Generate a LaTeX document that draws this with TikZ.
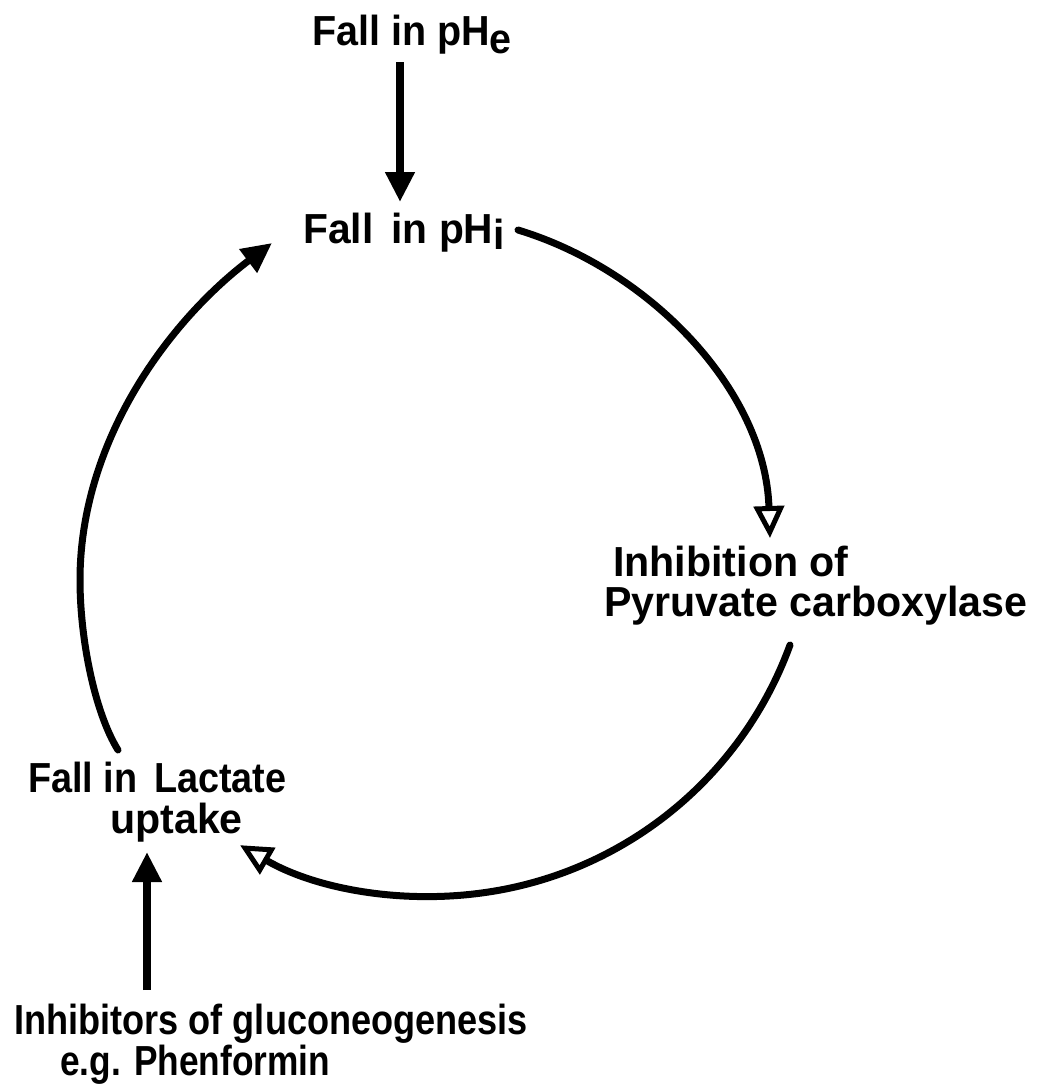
\documentclass[tikz,border=0pt]{standalone}
\usepackage{graphicx}
\usepackage{fontspec}
\setmainfont{Liberation Sans}
\usetikzlibrary{arrows.meta}
\newcommand\sqz[2]{\scalebox{#1}[1]{#2}}
\begin{document}
\begin{tikzpicture}[x=1pt,y=-1pt,
  lbl/.style={inner sep=0pt, anchor=base west, font=\fontsize{42}{48}\selectfont\bfseries},
  curve/.style={line width=7pt, line cap=round},
  shaft/.style={line width=8pt},
  fillhead/.style={-{Triangle[length=30pt,width=28pt]}},
  openhead/.style={-{Triangle[open,length=32pt,width=30pt,line width=5pt]}},
]
\fill[white] (0,0) rectangle (1043,1084);
\useasboundingbox (0,0) rectangle (1043,1084);

\node[lbl] (phe)  at (312,45)   {\sqz{0.94}{Fall in pH\raisebox{-8pt}{e}}};
\node[lbl] (phi)  at (303,243)  {\sqz{0.97}{Fall\, in pH\raisebox{-6pt}{i}}};
\node[lbl] (inh1) at (613,576)  {\sqz{0.98}{Inhibition of}};
\node[lbl] (inh2) at (604,616)  {\sqz{0.98}{Pyruvate carboxylase}};
\node[lbl] (lac1) at (28,792)   {\sqz{0.9}{Fall in\, Lactate}};
\node[lbl] (lac2) at (110,833)  {\sqz{0.98}{uptake}};
\node[lbl] (glu1) at (14,1034)  {\sqz{0.86}{Inhibitors of gluconeogenesis}};
\node[lbl] (glu2) at (60,1075)  {\sqz{0.84}{e.g. Phenformin}};

\coordinate (dA) at (400,62);  \coordinate (dB) at (400,202);
\coordinate (uA) at (147,990); \coordinate (uB) at (147,852);
\coordinate (r0) at (518,230); \coordinate (r1) at (770,538);
\coordinate (b0) at (790,645); \coordinate (b1) at (240,845);
\coordinate (l0) at (118,750); \coordinate (lm) at (80,580);  \coordinate (l1) at (272,243);

\draw[shaft, fillhead] (dA) -- (dB);
\draw[shaft, fillhead] (uA) -- (uB);
\draw[curve, openhead] (r0) .. controls (650,270) and (765,390) .. (r1);
\draw[curve, openhead] (b0) arc[start angle=20, end angle=120, radius=382];
\draw[curve, fillhead] (l0) .. controls (95,713) and (80,640) .. (lm)
                            .. controls (80,440) and (170,320) .. (l1);
\end{tikzpicture}
\end{document}
